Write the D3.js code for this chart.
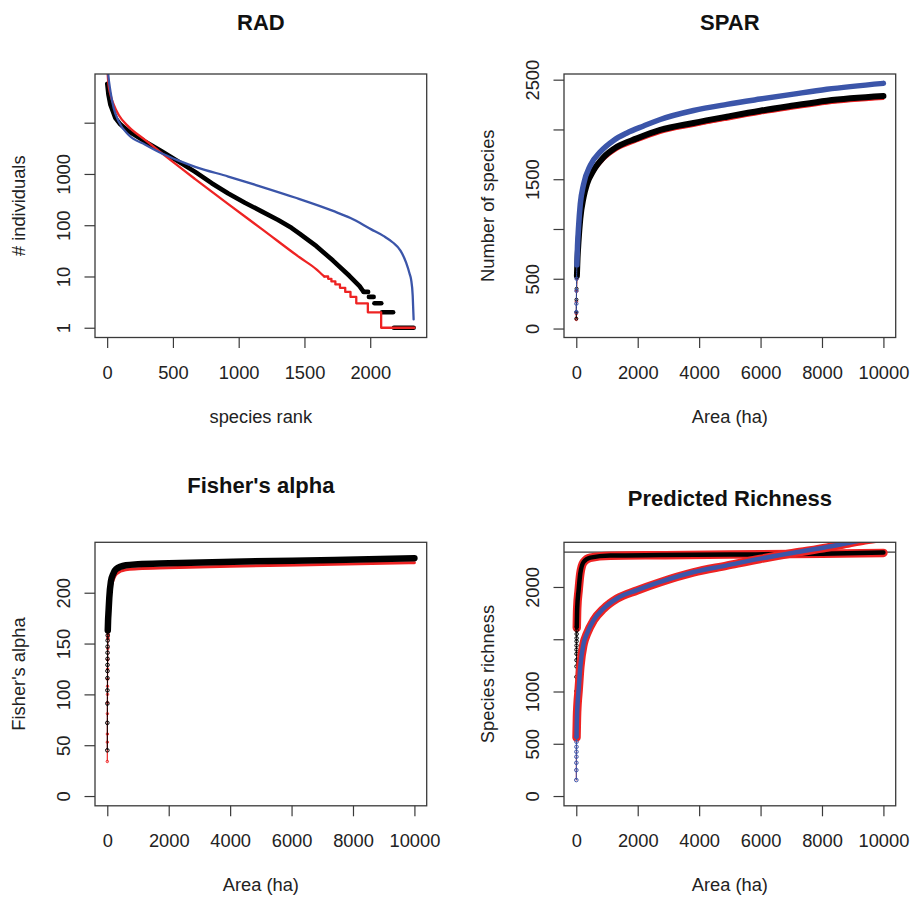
<!DOCTYPE html>
<html>
<head>
<meta charset="utf-8">
<script src="https://cdn.jsdelivr.net/npm/d3@7"></script>
<style>
  html, body { margin: 0; padding: 0; background: #fff; }
  svg { display: block; font-family: "Liberation Sans", Arial, sans-serif; }
</style>
</head>
<body>
<svg id="chart" width="913" height="899"></svg>
<script>
// ---------------- data ----------------
// RAD: rank-abundance, observed (black points)
const radObsRank  = [1, 10, 25, 63, 100, 164, 290, 417, 543, 669, 795, 921, 1047, 1174, 1300, 1401, 1465, 1591, 1717, 1843, 1919, 1945];
const radObsAbund = [57500, 35500, 22400, 12300, 9300, 6760, 4270, 2750, 1740, 1100, 660, 417, 275, 186, 126, 89, 68, 39, 20.4, 10.2, 6.5, 5.2];
// singletons .. fives of the observed tail (rank where each level starts, last entry = last rank)
const radObsTailRank  = [1950, 1990, 2032, 2090, 2180, 2336];
const radObsTailAbund = [5, 4, 3, 2, 1];
// RAD: red model
const radRedRank  = [1, 8, 25, 50, 88, 164, 290, 417, 669, 921, 1174, 1465, 1591, 1650];
const radRedAbund = [126000, 63100, 35500, 22400, 14100, 8300, 4570, 2510, 794, 257, 85, 23.4, 13.8, 10];
const radRedStepRank  = [1650, 1680, 1705, 1735, 1770, 1810, 1850, 1894, 1982, 2083, 2336];
const radRedStepAbund = [10, 9, 8, 7, 6, 5, 4, 3, 2, 1, 1];
// RAD: blue model
const radBlueRank  = [1, 8, 25, 50, 88, 164, 290, 417, 543, 669, 921, 1174, 1427, 1717, 1850, 2008, 2100, 2172, 2230, 2273, 2300, 2311, 2323, 2330];
const radBlueAbund = [158500, 89100, 40700, 19100, 10500, 5750, 3720, 2510, 1820, 1380, 891, 562, 347, 190, 138, 83, 62, 46, 32, 18.6, 11.2, 8.7, 4.2, 1.45];
const radRankTicks  = [0, 500, 1000, 1500, 2000];
const radAbundTicks = [1, 10, 100, 1000, 10000];
const radAbundLabels = [1, 10, 100, 1000];

// SPAR: species-area
const sparObsArea = [1, 2, 5, 10, 20, 40, 70, 130, 238, 347, 564, 888, 1324, 1975, 2733, 3818, 4902, 5987, 7072, 8156, 10000];
const sparObsS    = [100, 165, 290, 400, 530, 700, 860, 1100, 1320, 1450, 1590, 1720, 1825, 1910, 1995, 2065, 2128, 2188, 2240, 2289, 2336];
const sparRedS    = [92, 150, 270, 375, 500, 670, 830, 1070, 1290, 1420, 1560, 1690, 1795, 1880, 1965, 2035, 2098, 2158, 2210, 2259, 2306];
const sparBlueArea = [1, 2, 5, 10, 20, 40, 70, 130, 238, 456, 781, 1215, 1649, 2191, 2733, 3818, 4902, 5987, 7072, 8156, 10000];
const sparBlueS    = [165, 250, 380, 500, 640, 830, 1000, 1250, 1450, 1640, 1775, 1890, 1965, 2035, 2100, 2190, 2252, 2305, 2355, 2403, 2463];
const sparSLim = [8, 2459];
const sparSTicks  = [0, 500, 1000, 1500, 2000, 2500];
const sparSLabels = [0, 500, 1500, 2500];

// Fisher's alpha
const fisherObsArea  = [1, 2, 3, 4, 5, 6, 7, 8, 9, 10, 12, 14, 16, 25, 42, 65, 118, 200, 281, 605, 1000, 2000, 4100, 7400, 10000];
const fisherObsAlpha = [45, 72, 91, 104, 116, 123, 129, 135, 141, 147, 153, 158, 163, 172, 182, 195, 211, 219, 223, 227, 228, 229, 230.5, 232.3, 234];
const fisherRedArea  = [1, 2, 3, 4, 5, 6, 7, 8, 10, 12, 15, 20, 30, 50, 80, 120, 200, 300, 600, 1000, 2000, 4000, 7000, 10000];
const fisherRedAlpha = [34, 53, 61, 81, 92, 100, 108, 115, 125, 134, 145, 155, 166, 183, 196, 205, 213, 218.5, 222.5, 223.5, 224.5, 226, 227.8, 229.5];
const fisherAlphaLim = [0, 240];
const fisherAlphaTicks = [0, 50, 100, 150, 200];

// Predicted richness
const predObsArea = [1, 2, 3, 4, 5, 6, 7, 8, 9, 10, 12, 14, 16, 30, 76, 130, 238, 456, 1106, 2733, 5000, 8000, 10000];
const predObsS    = [815, 1003, 1140, 1240, 1300, 1360, 1400, 1440, 1480, 1510, 1550, 1585, 1618, 1800, 1969, 2128, 2239, 2281, 2300, 2305, 2310, 2318, 2330];
const predRedAArea = [16, 30, 76, 130, 238, 456, 1106, 2733, 5000, 8000, 10000];
const predRedAS    = [1610, 1795, 1965, 2125, 2236, 2280, 2298, 2304, 2310, 2318, 2326];
const predBlueArea = [1, 2, 3, 4, 5, 6, 7, 8, 10, 22, 40, 76, 130, 238, 347, 564, 889, 1324, 1975, 2733, 3818, 4902, 5987, 7072, 8156, 10000];
const predBlueS    = [153, 248, 318, 376, 424, 471, 519, 567, 610, 760, 880, 1013, 1236, 1459, 1554, 1682, 1794, 1890, 1969, 2048, 2143, 2207, 2271, 2328, 2382, 2490];
const predRedBArea = [1, 2, 4, 6, 8, 22, 40, 76, 130, 238, 347, 564, 889, 1324, 1975, 2733, 3818, 4902, 5987, 7072, 8156, 8916, 9400, 10000];
const predRedBS    = [150, 245, 372, 468, 560, 755, 875, 1010, 1233, 1455, 1552, 1680, 1792, 1888, 1967, 2046, 2140, 2204, 2268, 2325, 2376, 2420, 2446, 2472];
const predObservedRichness = 2334;
const predSTicks  = [0, 500, 1000, 1500, 2000];
const predSLabels = [0, 500, 1000, 2000];

const areaLim = [0, 10000];
const areaTicks = [0, 2000, 4000, 6000, 8000, 10000];

// ---------------- layout ----------------
const RED = "#ee2323", BLUE = "#3b55a9", BLACK = "#000", AXIS = "#3a3a3a", TEXT = "#222";
const colX = [95, 564], rowY = [74, 542.3], boxW = 331.7, boxH = 263.5;
const svg = d3.select("#chart");

// R-style axis extension (4% on both sides)
function padded(lo, hi) { const d = (hi - lo) * 0.04; return [lo - d, hi + d]; }
const zip = (xs, ys) => xs.map((x, i) => [x, ys[i]]);

function makePanel(id, col, row, xScale, yScale, opts) {
  const x0 = colX[col], y0 = rowY[row], x1 = x0 + boxW, y1 = y0 + boxH;
  xScale.range([x0, x1]);
  yScale.range([y1, y0]);
  const g = svg.append("g").attr("class", "panel-" + id);
  svg.append("clipPath").attr("id", "clip-" + id)
    .append("rect").attr("x", x0).attr("y", y0).attr("width", boxW).attr("height", boxH);
  const plot = g.append("g").attr("clip-path", `url(#clip-${id})`);

  // bottom axis
  const ax = g.append("g").attr("transform", `translate(0,${y1})`)
    .call(d3.axisBottom(xScale).tickValues(opts.xTicks).tickSize(10.5).tickFormat(d3.format("d")));
  ax.select(".domain").remove();
  ax.selectAll("line").attr("stroke", AXIS).attr("stroke-width", 1.2);
  ax.selectAll("text").attr("y", 41.5).attr("dy", 0).attr("fill", TEXT)
    .style("font-size", "18.3px").style("font-family", '"Liberation Sans", Arial, sans-serif');

  // left axis with labels read bottom-to-top
  const ay = g.append("g").attr("transform", `translate(${x0},0)`)
    .call(d3.axisLeft(yScale).tickValues(opts.yTicks).tickSize(10.5)
      .tickFormat(d => opts.yLabels.includes(d) ? String(d) : ""));
  ay.select(".domain").remove();
  ay.selectAll("line").attr("stroke", AXIS).attr("stroke-width", 1.2);
  ay.selectAll("text").attr("x", null).attr("dy", null)
    .attr("transform", "translate(-25,0) rotate(-90)")
    .attr("text-anchor", "middle").attr("fill", TEXT)
    .style("font-size", "18.3px").style("font-family", '"Liberation Sans", Arial, sans-serif');

  // box
  g.append("rect").attr("x", x0).attr("y", y0).attr("width", boxW).attr("height", boxH)
    .attr("fill", "none").attr("stroke", AXIS).attr("stroke-width", 1.3);

  // titles
  g.append("text").attr("x", (x0 + x1) / 2).attr("y", opts.titleY).attr("text-anchor", "middle")
    .attr("font-weight", "bold").attr("font-size", "22px").attr("fill", "#111").text(opts.title);
  g.append("text").attr("x", (x0 + x1) / 2).attr("y", y1 + 85).attr("text-anchor", "middle")
    .attr("font-size", "18.3px").attr("fill", TEXT).text(opts.xTitle);
  g.append("text").attr("transform", `translate(${x0 - 70},${(y0 + y1) / 2}) rotate(-90)`)
    .attr("text-anchor", "middle").attr("font-size", "18.3px").attr("fill", TEXT).text(opts.yTitle);
  return plot;
}

// draws a series: thin connecting line, small open circles where sparse, thick band where dense
function series(plot, x, y, pts, o) {
  const line = d3.line().x(d => x(d[0])).y(d => y(d[1])).curve(o.curve || d3.curveMonotoneX);
  if (o.thin) {
    plot.append("path").attr("d", line(pts)).attr("fill", "none")
      .attr("stroke", o.color).attr("stroke-width", o.thin);
  }
  if (o.cutoff !== undefined && o.circles) {
    const sparse = pts.filter(d => d[0] <= o.cutoff);
    plot.selectAll(null).data(sparse).enter().append("circle")
      .attr("cx", d => x(d[0])).attr("cy", d => y(d[1])).attr("r", o.r || 1.7)
      .attr("fill", "none").attr("stroke", o.circleColor || o.color).attr("stroke-width", 1);
  }
  if (o.band) {
    const dense = o.cutoff !== undefined ? pts.filter(d => d[0] >= o.cutoff) : pts;
    plot.append("path").attr("d", line(dense)).attr("fill", "none")
      .attr("stroke", o.color).attr("stroke-width", o.band)
      .attr("stroke-linejoin", "round").attr("stroke-linecap", "round");
  }
}

// ---------------- RAD ----------------
{
  const xr = padded(1, 2336);
  const lr = padded(0, Math.log10(d3.max(radObsAbund)));
  const x = d3.scaleLinear().domain(xr);
  const y = d3.scaleLog().domain([Math.pow(10, lr[0]), Math.pow(10, lr[1])]);
  const plot = makePanel("rad", 0, 0, x, y, {
    xTicks: radRankTicks, yTicks: radAbundTicks, yLabels: radAbundLabels,
    title: "RAD", titleY: 30, xTitle: "species rank", yTitle: "# individuals"
  });
  // observed points
  series(plot, x, y, zip(radObsRank, radObsAbund), { color: BLACK, band: 4.6, curve: d3.curveLinear });
  radObsTailAbund.forEach((v, i) => {
    plot.append("line")
      .attr("x1", x(radObsTailRank[i])).attr("x2", x(radObsTailRank[i + 1] - 6))
      .attr("y1", y(v)).attr("y2", y(v))
      .attr("stroke", BLACK).attr("stroke-width", 4.6).attr("stroke-linecap", "round");
  });
  // red model
  series(plot, x, y, zip(radRedRank, radRedAbund), { color: RED, band: 2.3, curve: d3.curveMonotoneX });
  series(plot, x, y, zip(radRedStepRank, radRedStepAbund), { color: RED, band: 2.3, curve: d3.curveStepAfter });
  // blue model
  series(plot, x, y, zip(radBlueRank, radBlueAbund), { color: BLUE, band: 2.3, curve: d3.curveMonotoneX });
}

// ---------------- SPAR ----------------
{
  const x = d3.scaleLinear().domain(padded(areaLim[0], areaLim[1]));
  const y = d3.scaleLinear().domain(padded(sparSLim[0], sparSLim[1]));
  const plot = makePanel("spar", 1, 0, x, y, {
    xTicks: areaTicks, yTicks: sparSTicks, yLabels: sparSLabels,
    title: "SPAR", titleY: 30, xTitle: "Area (ha)", yTitle: "Number of species"
  });
  series(plot, x, y, zip(sparObsArea, sparRedS), { color: RED, thin: 1, band: 2, cutoff: 20, circles: true, r: 1.3 });
  series(plot, x, y, zip(sparObsArea, sparObsS), { color: BLACK, thin: 1, band: 6, cutoff: 20, circles: true, r: 1.5 });
  series(plot, x, y, zip(sparBlueArea, sparBlueS), { color: BLUE, thin: 1, band: 5.5, cutoff: 20, circles: true, r: 1.7 });
}

// ---------------- Fisher's alpha ----------------
{
  const x = d3.scaleLinear().domain(padded(areaLim[0], areaLim[1]));
  const y = d3.scaleLinear().domain(padded(fisherAlphaLim[0], fisherAlphaLim[1]));
  const plot = makePanel("fisher", 0, 1, x, y, {
    xTicks: areaTicks, yTicks: fisherAlphaTicks, yLabels: fisherAlphaTicks,
    title: "Fisher's alpha", titleY: 493.3, xTitle: "Area (ha)", yTitle: "Fisher's alpha"
  });
  series(plot, x, y, zip(fisherRedArea, fisherRedAlpha), { color: RED, thin: 1.2, band: 3, cutoff: 20, circles: true, r: 1.2 });
  series(plot, x, y, zip(fisherObsArea, fisherObsAlpha), { color: BLACK, thin: 1, band: 6.5, cutoff: 16, circles: true, r: 1.8 });
}

// ---------------- Predicted richness ----------------
{
  const x = d3.scaleLinear().domain(padded(areaLim[0], areaLim[1]));
  const y = d3.scaleLinear().domain(padded(0, predObservedRichness));
  const plot = makePanel("pred", 1, 1, x, y, {
    xTicks: areaTicks, yTicks: predSTicks, yLabels: predSLabels,
    title: "Predicted Richness", titleY: 506, xTitle: "Area (ha)", yTitle: "Species richness"
  });
  plot.append("line").attr("x1", x.range()[0]).attr("x2", x.range()[1])
    .attr("y1", y(predObservedRichness)).attr("y2", y(predObservedRichness))
    .attr("stroke", AXIS).attr("stroke-width", 1.3);
  series(plot, x, y, zip(predRedAArea, predRedAS), { color: RED, band: 8.5 });
  series(plot, x, y, zip(predObsArea, predObsS), { color: BLACK, thin: 1, band: 4.5, cutoff: 16, circles: true, r: 1.7 });
  series(plot, x, y, zip(predRedBArea, predRedBS), { color: RED, thin: 1, band: 8.5, cutoff: 8 });
  series(plot, x, y, zip(predBlueArea, predBlueS), { color: BLUE, thin: 1, band: 4.5, cutoff: 8, circles: true, r: 1.8 });
}
</script>
</body>
</html>
